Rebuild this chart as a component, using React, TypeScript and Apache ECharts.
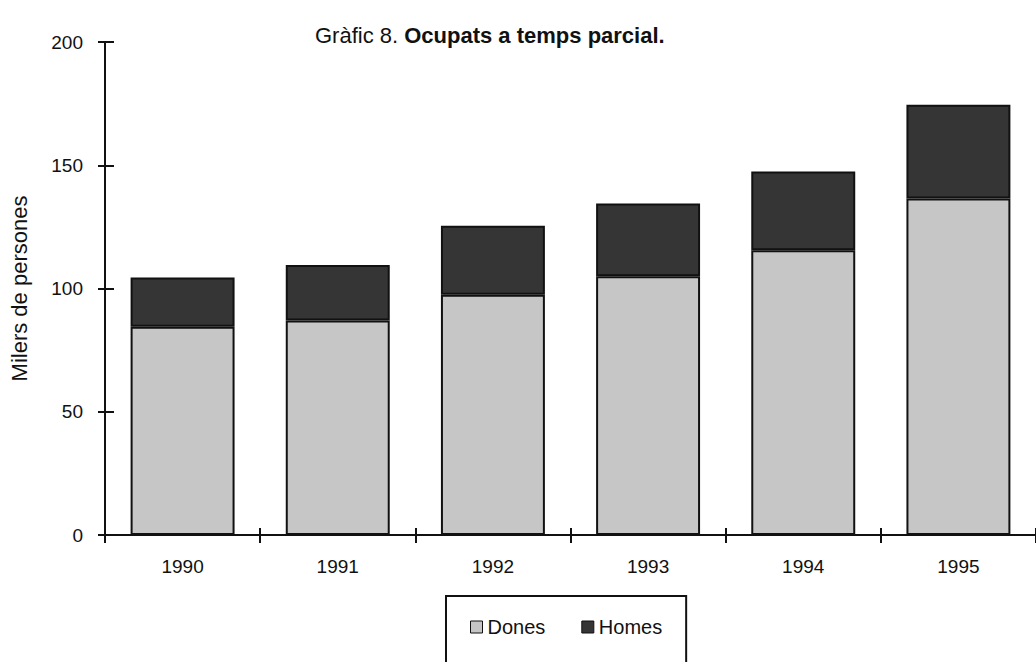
import React, { useEffect, useRef } from "react";
import * as echarts from "echarts";

const years = ["1990", "1991", "1992", "1993", "1994", "1995"];
const dones = [84.5, 87, 97.5, 105, 115.5, 136.5];
const homes = [20, 22.5, 28, 29.5, 32, 38];
const yTicks = { min: 0, max: 200, interval: 50 };

const FONT = "'Liberation Sans', Arial, Helvetica, sans-serif";

export default function App() {
  const ref = useRef<HTMLDivElement>(null);
  useEffect(() => {
    if (!ref.current) return;
    const chart = echarts.init(ref.current, null, { renderer: "svg" });
    const grid = { left: 104, right: 0, top: 42, bottom: 127 };
    chart.setOption({
      animation: false,
      backgroundColor: "#ffffff",
      textStyle: { fontFamily: FONT, color: "#111" },
      title: {
        text: "{a|Gràfic 8. }{b|Ocupats a temps parcial.}",
        left: 310,
        top: 19,
        textStyle: {
          fontFamily: FONT,
          fontSize: 22,
          fontWeight: "normal",
          color: "#111",
          rich: {
            a: { fontFamily: FONT, fontSize: 22, fontWeight: "normal", color: "#111" },
            b: { fontFamily: FONT, fontSize: 22, fontWeight: "bold", color: "#111" },
          },
        },
      },
      legend: {
        data: ["Dones", "Homes"],
        left: 446,
        top: 596,
        orient: "horizontal",
        icon: "rect",
        itemWidth: 12,
        itemHeight: 12,
        itemGap: 36,
        padding: [21, 24, 60, 24],
        borderColor: "#111",
        borderWidth: 2,
        textStyle: { fontFamily: FONT, fontSize: 20, color: "#111" },
        itemStyle: { borderColor: "#111", borderWidth: 1 },
      },
      grid: [grid],
      xAxis: [
        {
          type: "category",
          data: years,
          gridIndex: 0,
          axisLine: { show: true, lineStyle: { color: "#111", width: 2 } },
          axisTick: { show: true, alignWithLabel: false, length: 8, lineStyle: { color: "#111", width: 2 } },
          axisLabel: { margin: 22, fontSize: 19, fontFamily: FONT, color: "#111" },
          splitLine: { show: false },
        },
        {
          type: "category",
          data: years,
          gridIndex: 0,
          position: "bottom",
          axisLine: { show: false },
          axisTick: { show: true, inside: true, length: 7, lineStyle: { color: "#111", width: 2 } },
          axisLabel: { show: false },
          splitLine: { show: false },
        },
      ],
      yAxis: [
        {
          type: "value",
          ...yTicks,
          name: "Milers de persones",
          nameLocation: "middle",
          nameGap: 75,
          nameRotate: 90,
          nameTextStyle: { fontFamily: FONT, fontSize: 22, color: "#111" },
          axisLine: { show: true, lineStyle: { color: "#111", width: 2 } },
          axisTick: { show: true, length: 7, lineStyle: { color: "#111", width: 2 } },
          axisLabel: { margin: 22, fontSize: 19, fontFamily: FONT, color: "#111" },
          splitLine: { show: false },
        },
        {
          type: "value",
          ...yTicks,
          position: "left",
          axisLine: { show: false },
          axisTick: { show: true, inside: true, length: 9, lineStyle: { color: "#111", width: 2 } },
          axisLabel: { show: false },
          splitLine: { show: false },
        },
      ],
      series: [
        {
          name: "Dones",
          type: "bar",
          stack: "total",
          data: dones,
          barWidth: "67%",
          itemStyle: { color: "#c6c6c6", borderColor: "#111", borderWidth: 2 },
        },
        {
          name: "Homes",
          type: "bar",
          stack: "total",
          data: homes,
          barWidth: "67%",
          itemStyle: { color: "#353535", borderColor: "#111", borderWidth: 2 },
        },
      ],
    });
    return () => chart.dispose();
  }, []);
  return (
    <div
      ref={ref}
      style={{ position: "fixed", left: 0, top: 0, width: 1036, height: 662, background: "#fff" }}
    />
  );
}
